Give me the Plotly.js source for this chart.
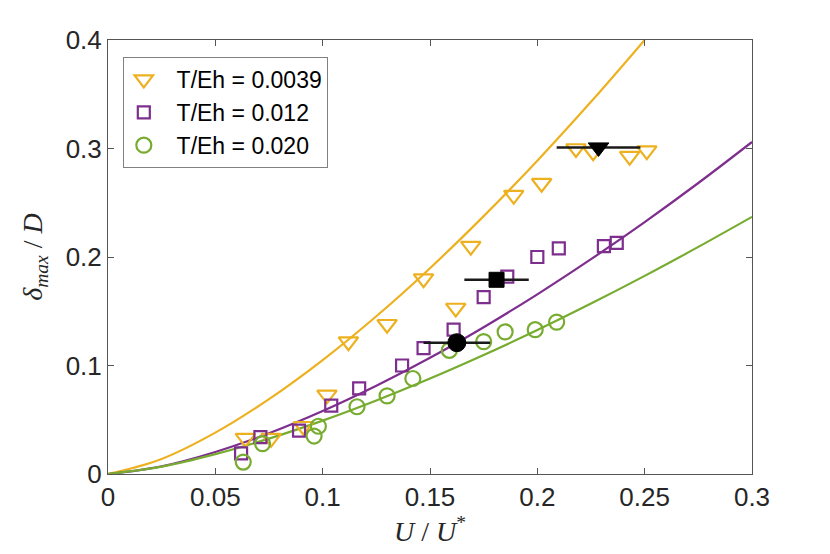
<!DOCTYPE html>
<html>
<head>
<meta charset="utf-8">
<script src="https://cdn.plot.ly/plotly-3.0.1.min.js"></script>
<style>html,body{margin:0;padding:0;background:#fff;}#chart{width:830px;height:554px;}</style>
</head>
<body>
<div id="chart"></div>
<script>
// Data
const seriesNames = ["\u00A0\u00A0T/Eh = 0.0039", "\u00A0\u00A0T/Eh = 0.012", "\u00A0\u00A0T/Eh = 0.020"];

const triX = [0.064, 0.076, 0.091, 0.102, 0.112, 0.130, 0.147, 0.162, 0.169, 0.189, 0.202, 0.218, 0.226, 0.243, 0.251];
const triY = [0.033, 0.033, 0.044, 0.073, 0.122, 0.138, 0.180, 0.153, 0.210, 0.257, 0.268, 0.300, 0.297, 0.293, 0.298];

const sqX = [0.062, 0.071, 0.089, 0.104, 0.117, 0.137, 0.147, 0.161, 0.175, 0.186, 0.200, 0.210, 0.231, 0.237];
const sqY = [0.019, 0.034, 0.040, 0.063, 0.079, 0.100, 0.116, 0.133, 0.163, 0.182, 0.200, 0.208, 0.210, 0.213];

const ciX = [0.063, 0.072, 0.096, 0.098, 0.116, 0.130, 0.142, 0.159, 0.175, 0.185, 0.199, 0.209];
const ciY = [0.011, 0.028, 0.035, 0.044, 0.062, 0.072, 0.088, 0.114, 0.122, 0.131, 0.133, 0.140];

// Mean points with horizontal spread
const meanX = [0.2285, 0.181, 0.1625];
const meanY = [0.301, 0.179, 0.121];
const meanErr = [0.0195, 0.015, 0.0155];

// Fitted curves
const fitOrangeX = [0, 0.025, 0.05, 0.075, 0.1, 0.125, 0.15, 0.175, 0.2, 0.225, 0.25];
const fitOrangeY = [0, 0.0139, 0.0381, 0.0690, 0.1050, 0.1454, 0.1897, 0.2377, 0.2888, 0.3430, 0.400];
const fitX = [0, 0.025, 0.05, 0.075, 0.1, 0.125, 0.15, 0.175, 0.2, 0.225, 0.25, 0.275, 0.3];
const fitPurpleY = [0, 0.0071, 0.0203, 0.0375, 0.0580, 0.0813, 0.1071, 0.1353, 0.1656, 0.1980, 0.2322, 0.2682, 0.306];
const fitGreenY = [0, 0.0068, 0.0183, 0.0326, 0.0492, 0.0678, 0.0880, 0.1097, 0.1327, 0.1571, 0.1826, 0.2093, 0.237];

const xTicks = [0, 0.05, 0.1, 0.15, 0.2, 0.25, 0.3];
const xTickText = ["0", "0.05", "0.1", "0.15", "0.2", "0.25", "0.3"];
const yTicks = [0, 0.1, 0.2, 0.3, 0.4];
const yTickText = ["0", "0.1", "0.2", "0.3", "0.4"];

const cOrange = "#EDB120", cPurple = "#7E2F8E", cGreen = "#77AC30";

const traces = [
  {x: fitOrangeX, y: fitOrangeY, mode: "lines", line: {color: cOrange, width: 2.2, shape: "spline"}, showlegend: false, hoverinfo: "skip"},
  {x: fitX, y: fitPurpleY, mode: "lines", line: {color: cPurple, width: 2.2, shape: "spline"}, showlegend: false, hoverinfo: "skip"},
  {x: fitX, y: fitGreenY, mode: "lines", line: {color: cGreen, width: 2.2, shape: "spline"}, showlegend: false, hoverinfo: "skip"},
  {x: triX, y: triY, mode: "markers", name: seriesNames[0],
   marker: {symbol: "triangle-down-open", size: 17, color: cOrange, line: {width: 2.2, color: cOrange}}},
  {x: sqX, y: sqY, mode: "markers", name: seriesNames[1],
   marker: {symbol: "square-open", size: 12, color: cPurple, line: {width: 2.2, color: cPurple}}},
  {x: ciX, y: ciY, mode: "markers", name: seriesNames[2],
   marker: {symbol: "circle-open", size: 15, color: cGreen, line: {width: 2.2, color: cGreen}}},
  {x: meanX, y: meanY, mode: "markers", showlegend: false, hoverinfo: "skip",
   error_x: {type: "data", array: meanErr, visible: true, color: "#1a1a1a", thickness: 2.5, width: 0},
   marker: {symbol: ["triangle-down", "square", "circle"], size: [18, 15, 18], color: "#000000",
            opacity: 1, line: {color: "#000000", width: 1}}}
];

const axisCommon = {
  showgrid: false, zeroline: false, showline: true, mirror: "ticks",
  linecolor: "#555555", linewidth: 1, ticks: "inside", ticklen: 6, tickcolor: "#555555",
  tickfont: {family: "Liberation Sans, Arial, sans-serif", size: 26, color: "#262626"}
};

const layout = {
  width: 830, height: 554,
  margin: {l: 108, r: 78, t: 40, b: 80},
  paper_bgcolor: "#ffffff", plot_bgcolor: "#ffffff",
  xaxis: Object.assign({}, axisCommon, {
    range: [0, 0.3], tickvals: xTicks, ticktext: xTickText,
    title: {text: "<i>U</i> / <i>U</i><sup>*</sup>", standoff: 2,
      font: {family: "Liberation Serif, Times New Roman, serif", size: 28, color: "#262626"}}
  }),
  yaxis: Object.assign({}, axisCommon, {
    range: [0, 0.4], tickvals: yTicks, ticktext: yTickText,
    title: {text: "<i>δ</i><sub><i>max</i></sub> / <i>D</i>", standoff: 14,
      font: {family: "Liberation Serif, Times New Roman, serif", size: 28, color: "#262626"}}
  }),
  legend: {
    x: 0.023, y: 0.961, xanchor: "left", yanchor: "top",
    bgcolor: "#ffffff", bordercolor: "#808080", borderwidth: 1,
    font: {family: "Liberation Sans, Arial, sans-serif", size: 23, color: "#000000"},
    tracegroupgap: 0, itemsizing: "trace"
  },
  showlegend: true
};

Plotly.newPlot("chart", traces, layout, {displayModeBar: false, staticPlot: true});
</script>
</body>
</html>
